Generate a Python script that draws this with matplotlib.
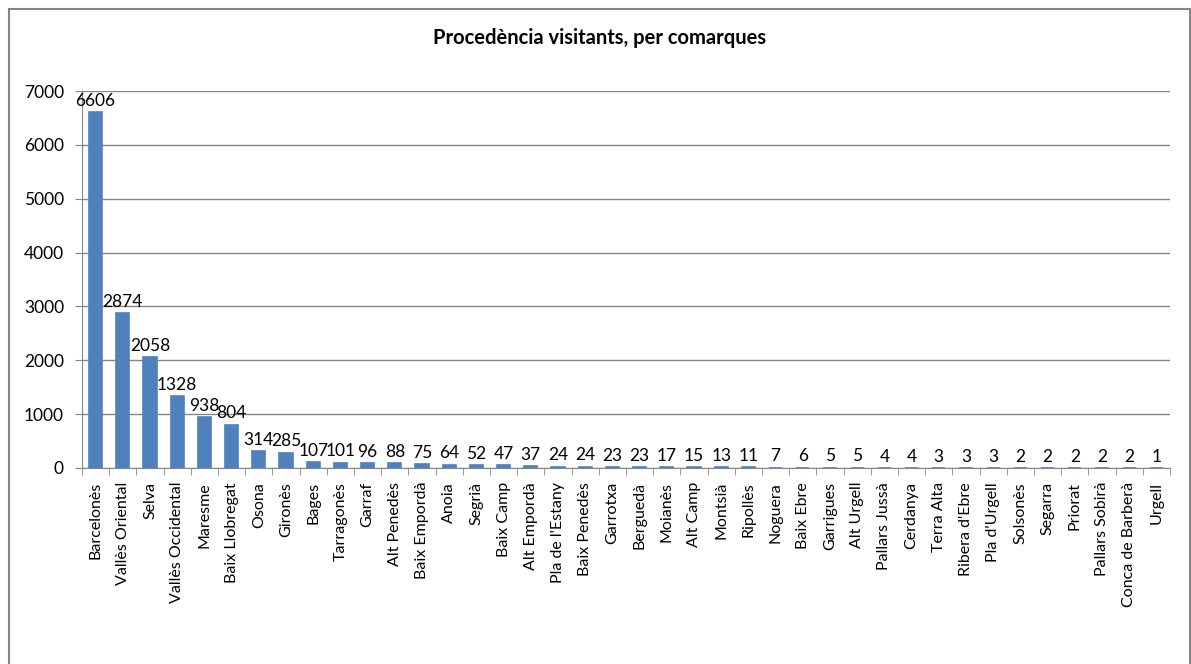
import numpy as np
import matplotlib.pyplot as plt
from matplotlib.patches import Rectangle

comarques = ['Barcelonès', 'Vallès Oriental', 'Selva', 'Vallès Occidental', 'Maresme',
             'Baix Llobregat', 'Osona', 'Gironès', 'Bages', 'Tarragonès', 'Garraf',
             'Alt Penedès', 'Baix Empordà', 'Anoia', 'Segrià', 'Baix Camp', 'Alt Empordà',
             "Pla de l'Estany", 'Baix Penedès', 'Garrotxa', 'Berguedà', 'Moianès',
             'Alt Camp', 'Montsià', 'Ripollès', 'Noguera', 'Baix Ebre', 'Garrigues',
             'Alt Urgell', 'Pallars Jussà', 'Cerdanya', 'Terra Alta', "Ribera d'Ebre",
             "Pla d'Urgell", 'Solsonès', 'Segarra', 'Priorat', 'Pallars Sobirà',
             'Conca de Barberà', 'Urgell']
visitants = [6606, 2874, 2058, 1328, 938, 804, 314, 285, 107, 101, 96, 88, 75, 64, 52,
             47, 37, 24, 24, 23, 23, 17, 15, 13, 11, 7, 6, 5, 5, 4, 4, 3, 3, 3, 2, 2,
             2, 2, 2, 1]
y_ticks = [0, 1000, 2000, 3000, 4000, 5000, 6000, 7000]

plt.rcParams['font.family'] = ['Lato', 'DejaVu Sans']

fig = plt.figure(figsize=(11.91, 6.64), dpi=100)
# outer chart frame (bottom edge is cut off in the original)
fig.patches.append(Rectangle((9 / 1191, -0.1), 1181 / 1191, 1.1 - 9 / 664,
                             transform=fig.transFigure, fill=False,
                             edgecolor='#868686', linewidth=1.5))
ax = fig.add_axes([82 / 1191, 1 - 468 / 664, (1170 - 82) / 1191, (468 - 91) / 664])

x = np.arange(len(comarques))
ax.bar(x, visitants, width=0.48, color='#4F81BD', edgecolor='#4F81BD',
       linewidth=1.2, zorder=3)
for xi, v in zip(x, visitants):
    ax.text(xi, v + 60, str(v), ha='center', va='bottom', fontsize=12.5, color='#000000')

ax.set_xlim(-0.5, len(comarques) - 0.5)
ax.set_ylim(0, 7000)
ax.set_yticks(y_ticks)
ax.yaxis.grid(True, color='#868686', linewidth=1)
ax.set_axisbelow(True)

ax.set_xticks(x)
ax.set_xticklabels(comarques, rotation=90, fontsize=11.5)
ax.set_xticks(np.arange(len(comarques) + 1) - 0.5, minor=True)
ax.tick_params(axis='x', which='major', length=0, pad=10)
ax.tick_params(axis='x', which='minor', length=5, color='#868686')
ax.tick_params(axis='y', length=5, color='#868686', labelsize=12.5, pad=8)

for s in ['top', 'right']:
    ax.spines[s].set_visible(False)
for s in ['left', 'bottom']:
    ax.spines[s].set_color('#868686')
ax.patch.set_alpha(0)

fig.text(600 / 1191, 1 - 38 / 664, 'Procedència visitants, per comarques',
         ha='center', va='center', fontsize=14.5, fontweight='bold')

fig.savefig('out.png', dpi=100)
